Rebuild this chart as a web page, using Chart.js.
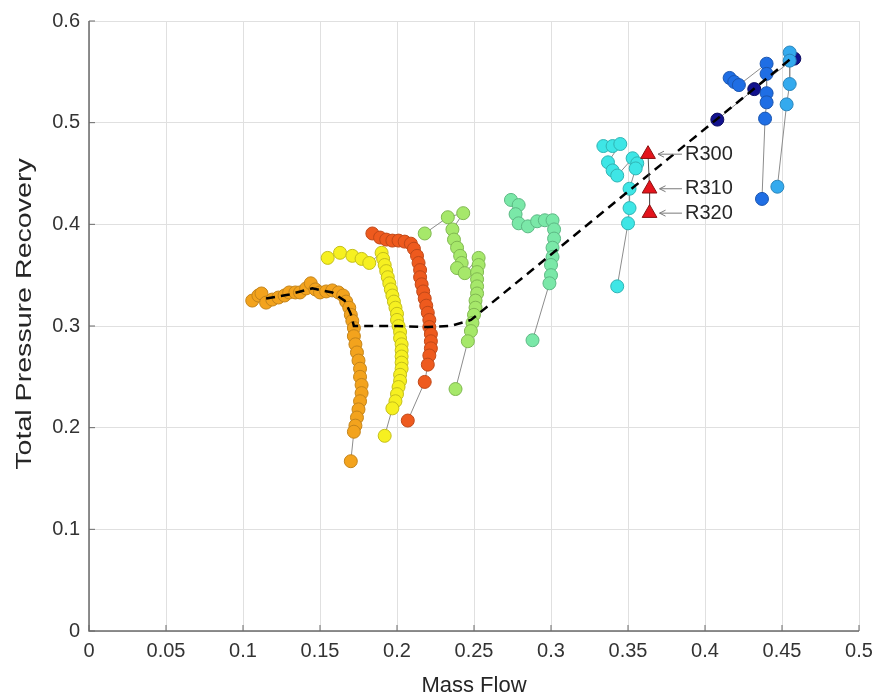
<!DOCTYPE html>
<html>
<head>
<meta charset="utf-8">
<script src="https://cdn.jsdelivr.net/npm/chart.js@4/dist/chart.umd.min.js"></script>
<style>
  html, body { margin: 0; padding: 0; background: #fff; }
</style>
</head>
<body>
<canvas id="chart" width="883" height="700"></canvas>
<script>
// Mass flow / total pressure recovery runs

const orangeX = [0.106, 0.110, 0.112, 0.115, 0.119, 0.123, 0.127, 0.130, 0.134, 0.137, 0.141, 0.144, 0.147, 0.150, 0.154, 0.158, 0.162, 0.165, 0.167, 0.169, 0.170, 0.171, 0.172, 0.172, 0.173, 0.174, 0.175, 0.176, 0.176, 0.177, 0.177, 0.176, 0.175, 0.174, 0.173, 0.172, 0.170];
const orangeY = [0.325, 0.330, 0.332, 0.323, 0.326, 0.328, 0.330, 0.333, 0.333, 0.333, 0.337, 0.342, 0.336, 0.333, 0.334, 0.335, 0.333, 0.330, 0.324, 0.318, 0.311, 0.305, 0.298, 0.290, 0.282, 0.274, 0.266, 0.258, 0.250, 0.242, 0.234, 0.226, 0.218, 0.210, 0.202, 0.196, 0.167];

const yellowX = [0.155, 0.163, 0.171, 0.177, 0.182, 0.190, 0.191, 0.192, 0.193, 0.194, 0.195, 0.196, 0.197, 0.198, 0.199, 0.200, 0.200, 0.201, 0.202, 0.202, 0.203, 0.203, 0.203, 0.203, 0.203, 0.202, 0.202, 0.201, 0.200, 0.199, 0.197, 0.192];
const yellowY = [0.367, 0.372, 0.369, 0.366, 0.362, 0.372, 0.366, 0.360, 0.354, 0.348, 0.342, 0.336, 0.330, 0.324, 0.318, 0.312, 0.306, 0.300, 0.294, 0.288, 0.282, 0.276, 0.270, 0.264, 0.258, 0.252, 0.246, 0.240, 0.233, 0.226, 0.219, 0.192];

const redX = [0.184, 0.189, 0.193, 0.197, 0.201, 0.205, 0.209, 0.211, 0.213, 0.214, 0.215, 0.215, 0.216, 0.217, 0.218, 0.219, 0.220, 0.221, 0.221, 0.222, 0.222, 0.222, 0.221, 0.220, 0.218, 0.207];
const redY = [0.391, 0.387, 0.385, 0.384, 0.384, 0.383, 0.381, 0.376, 0.369, 0.362, 0.355, 0.348, 0.341, 0.334, 0.327, 0.320, 0.313, 0.306, 0.299, 0.292, 0.285, 0.278, 0.271, 0.262, 0.245, 0.207];

const limeX = [0.218, 0.233, 0.243, 0.236, 0.237, 0.239, 0.241, 0.242, 0.239, 0.244, 0.253, 0.253, 0.252, 0.252, 0.252, 0.252, 0.251, 0.251, 0.250, 0.249, 0.248, 0.246, 0.238];
const limeY = [0.391, 0.407, 0.411, 0.395, 0.385, 0.377, 0.369, 0.362, 0.357, 0.352, 0.367, 0.360, 0.353, 0.346, 0.339, 0.332, 0.325, 0.318, 0.311, 0.303, 0.295, 0.285, 0.238];

const mintX = [0.274, 0.279, 0.277, 0.279, 0.285, 0.291, 0.296, 0.301, 0.302, 0.302, 0.301, 0.301, 0.300, 0.300, 0.299, 0.288];
const mintY = [0.424, 0.419, 0.410, 0.401, 0.398, 0.403, 0.404, 0.404, 0.395, 0.386, 0.377, 0.368, 0.360, 0.350, 0.342, 0.286];

const cyanX = [0.334, 0.340, 0.345, 0.337, 0.340, 0.343, 0.353, 0.356, 0.355, 0.351, 0.351, 0.350, 0.343];
const cyanY = [0.477, 0.477, 0.479, 0.461, 0.453, 0.448, 0.465, 0.460, 0.455, 0.435, 0.416, 0.401, 0.339];

const skyX = [0.455, 0.455, 0.455, 0.453, 0.447];
const skyY = [0.569, 0.561, 0.538, 0.518, 0.437];

const blueX = [0.416, 0.419, 0.422, 0.440, 0.440, 0.440, 0.440, 0.439, 0.437];
const blueY = [0.544, 0.540, 0.537, 0.558, 0.548, 0.529, 0.520, 0.504, 0.425];

const navyX = [0.408, 0.432, 0.458];
const navyY = [0.503, 0.533, 0.563];

// dashed trend line
const trendX = [0.115, 0.130, 0.145, 0.158, 0.166, 0.170, 0.172, 0.185, 0.200, 0.220, 0.235, 0.248, 0.455];
const trendY = [0.327, 0.331, 0.337, 0.333, 0.325, 0.312, 0.300, 0.300, 0.300, 0.299, 0.300, 0.306, 0.562];

// labelled runs
const runNames = ['R300', 'R310', 'R320'];
const runX = [0.363, 0.364, 0.364];
const runY = [0.469, 0.435, 0.411];

const xTicks = [0, 0.05, 0.1, 0.15, 0.2, 0.25, 0.3, 0.35, 0.4, 0.45, 0.5];
const yTicks = [0, 0.1, 0.2, 0.3, 0.4, 0.5, 0.6];

const yTitle = 'Total Pressure Recovery';
const xTitle = 'Mass Flow';

function pts(xs, ys) {
    return xs.map((x, i) => ({ x: x, y: ys[i] }));
}

const series = [
    { name: 'sky', x: skyX, y: skyY, fill: '#34aaee', edge: '#2a85bb' },
    { name: 'blue', x: blueX, y: blueY, fill: '#1f6ee4', edge: '#1a55b0' },
    { name: 'navy', x: navyX, y: navyY, fill: '#12128e', edge: '#0c0c60' },
    { name: 'cyan', x: cyanX, y: cyanY, fill: '#3ee6e6', edge: '#30b4b4' },
    { name: 'mint', x: mintX, y: mintY, fill: '#7ae8a8', edge: '#5cb884' },
    { name: 'lime', x: limeX, y: limeY, fill: '#a6e86a', edge: '#80b850' },
    { name: 'red', x: redX, y: redY, fill: '#ee5a1e', edge: '#c04818' },
    { name: 'yellow', x: yellowX, y: yellowY, fill: '#f6f020', edge: '#c4be1a' },
    { name: 'orange', x: orangeX, y: orangeY, fill: '#f3a31d', edge: '#c4841a' }
];

const datasets = [
    {
        label: 'runs',
        data: pts(runX, runY),
        showLine: true,
        borderColor: '#555',
        borderWidth: 1,
        pointStyle: 'triangle',
        pointRadius: 8.5,
        pointBackgroundColor: '#e4141c',
        pointBorderColor: '#8a1010',
        pointBorderWidth: 1
    },
    {
        label: 'trend',
        data: pts(trendX, trendY),
        showLine: true,
        borderColor: '#000',
        borderWidth: 2.5,
        borderDash: [9, 6],
        pointRadius: 0,
        tension: 0
    }
];

series.forEach(s => {
    datasets.push({
        label: s.name,
        data: pts(s.x, s.y),
        showLine: true,
        borderColor: '#8c8c8c',
        borderWidth: 1,
        pointRadius: 6.5,
        pointBackgroundColor: s.fill,
        pointBorderColor: s.edge,
        pointBorderWidth: 1
    });
});

// axes lines + inner tick marks, MATLAB style
const axesPlugin = {
    id: 'axesLines',
    beforeDatasetsDraw(chart) {
        const { ctx, chartArea: a, scales } = chart;
        ctx.save();
        ctx.strokeStyle = '#6a6a6a';
        ctx.lineWidth = 1.5;
        ctx.beginPath();
        ctx.moveTo(a.left, a.top);
        ctx.lineTo(a.left, a.bottom);
        ctx.lineTo(a.right, a.bottom);
        ctx.stroke();
        ctx.lineWidth = 1;
        ctx.beginPath();
        xTicks.forEach(v => {
            const px = scales.x.getPixelForValue(v);
            ctx.moveTo(px, a.bottom);
            ctx.lineTo(px, a.bottom - 6);
        });
        yTicks.forEach(v => {
            const py = scales.y.getPixelForValue(v);
            ctx.moveTo(a.left, py);
            ctx.lineTo(a.left + 6, py);
        });
        ctx.stroke();

        // y title, stretched along its length like the reference
        const cy = (a.top + a.bottom) / 2 - 12;
        ctx.translate(25, cy);
        ctx.rotate(-Math.PI / 2);
        ctx.scale(1.3, 1);
        ctx.font = '22px "Liberation Sans", Arial, sans-serif';
        ctx.fillStyle = '#262626';
        ctx.textAlign = 'center';
        ctx.textBaseline = 'middle';
        ctx.fillText(yTitle, 0, 0);
        ctx.restore();
    }
};

// R300/R310/R320 labels with arrows
const labelPlugin = {
    id: 'runLabels',
    afterDatasetsDraw(chart) {
        const { ctx, scales } = chart;
        ctx.save();
        ctx.font = '20px "Liberation Sans", Arial, sans-serif';
        ctx.fillStyle = '#262626';
        ctx.textBaseline = 'middle';
        ctx.textAlign = 'left';
        runNames.forEach((name, i) => {
            const tx = scales.x.getPixelForValue(0.387);
            const ty = scales.y.getPixelForValue(runY[i]);
            const ax = scales.x.getPixelForValue(runX[i]) + 10;
            ctx.fillText(name, tx, ty);
            ctx.strokeStyle = '#7a7a7a';
            ctx.lineWidth = 1;
            ctx.beginPath();
            ctx.moveTo(tx - 3, ty);
            ctx.lineTo(ax, ty);
            ctx.moveTo(ax + 6, ty - 3);
            ctx.lineTo(ax, ty);
            ctx.lineTo(ax + 6, ty + 3);
            ctx.stroke();
        });
        ctx.restore();
    }
};

const tickFont = { family: '"Liberation Sans", Arial, sans-serif', size: 20 };
const titleFont = { family: '"Liberation Sans", Arial, sans-serif', size: 22 };

new Chart(document.getElementById('chart'), {
    type: 'scatter',
    data: { datasets: datasets },
    options: {
        responsive: false,
        animation: false,
        devicePixelRatio: 1,
        layout: { padding: { left: 0, right: 24, top: 20, bottom: 0 } },
        plugins: {
            legend: { display: false },
            tooltip: { enabled: false }
        },
        scales: {
            x: {
                type: 'linear',
                min: 0,
                max: 0.5,
                afterFit: s => { s.height = 69; },
                afterBuildTicks: s => { s.ticks = xTicks.map(v => ({ value: v })); },
                grid: { color: '#e0e0e0', lineWidth: 1, drawTicks: false },
                border: { display: false },
                ticks: {
                    padding: 8,
                    color: '#333',
                    font: tickFont,
                    maxRotation: 0,
                    callback: v => String(Number(v.toFixed(2)))
                },
                title: {
                    display: true,
                    text: xTitle,
                    color: '#262626',
                    font: titleFont,
                    padding: { top: 0, bottom: 1 }
                }
            },
            y: {
                type: 'linear',
                min: 0,
                max: 0.6,
                afterFit: s => { s.width = 89; },
                afterBuildTicks: s => { s.ticks = yTicks.map(v => ({ value: v })); },
                grid: { color: '#e0e0e0', lineWidth: 1, drawTicks: false },
                border: { display: false },
                ticks: {
                    padding: 9,
                    color: '#333',
                    font: tickFont,
                    callback: v => String(Number(v.toFixed(2)))
                },
                title: { display: false }
            }
        }
    },
    plugins: [axesPlugin, labelPlugin]
});
</script>
</body>
</html>
